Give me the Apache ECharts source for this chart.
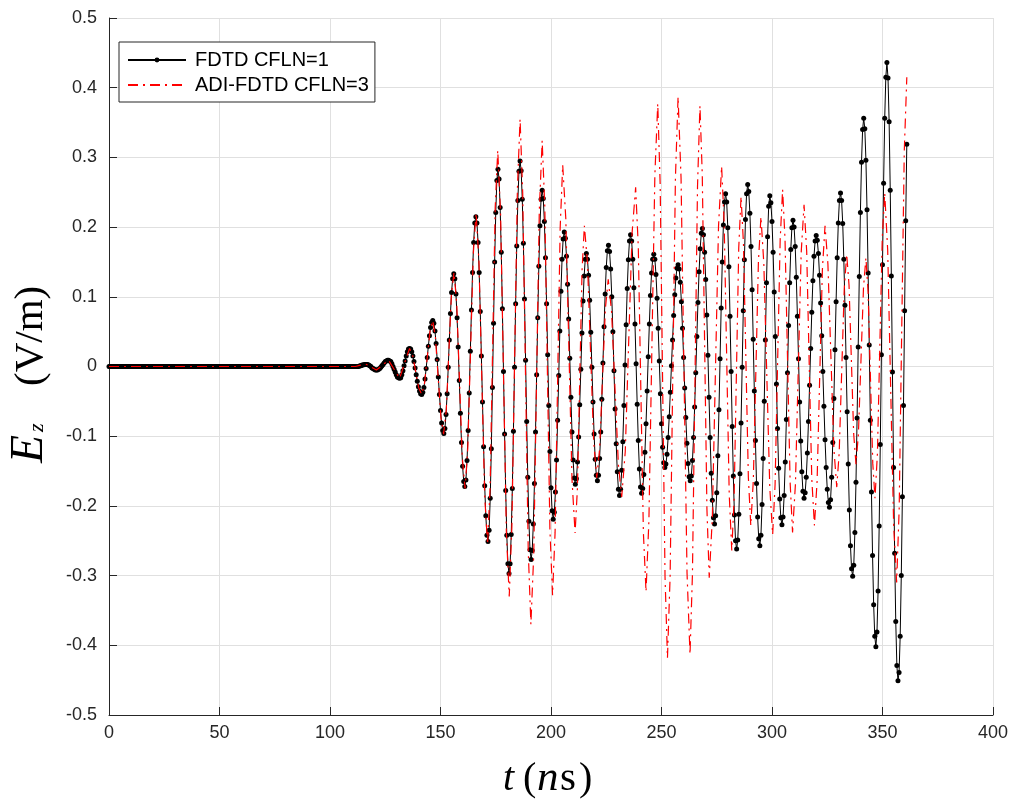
<!DOCTYPE html>
<html><head><meta charset="utf-8">
<script src="https://cdn.jsdelivr.net/npm/echarts@6/dist/echarts.min.js"></script>
<style>html,body{margin:0;padding:0;background:#fff}#c{width:1016px;height:802px}</style>
</head><body><div id="c"></div>
<script>
const seriesNames = ['FDTD CFLN=1', 'ADI-FDTD CFLN=3'];
const xMin = 0, xMax = 400, xStep = 50;
const yMin = -0.5, yMax = 0.5, yStep = 0.1;

// FDTD samples: uniform time step starting at fdtdT0 (ns)
const fdtdT0 = 0, fdtdDt = 0.5;
const fdtdEz = [
0,0,0,0,0,0,0,0,0,0,0,0,0,0,0,0,0,0,0,0,0,0,0,0,0,
0,0,0,0,0,0,0,0,0,0,0,0,0,0,0,0,0,0,0,0,0,0,0,0,0,
0,0,0,0,0,0,0,0,0,0,0,0,0,0,0,0,0,0,0,0,0,0,0,0,0,
0,0,0,0,0,0,0,0,0,0,0,0,0,0,0,0,0,0,0,0,0,0,0,0,0,
0,0,0,0,0,0,0,0,0,0,0,0,0,0,0,0,0,0,0,0,0,0,0,0,0,
0,0,0,0,0,0,0,0,0,0,0,0,0,0,0,0,0,0,0,0,0,0,0,0,0,
0,0,0,0,0,0,0,0,0,0,0,0,0,0,0,0,0,0,0,0,0,0,0,0,0,
0,0,0,0,0,0,0,0,0,0,0,0,0,0,0,0,0,0,0,0,0,0,0,0,0,
0,0,0,0,0,0,0,0,0,0,0,0,0,0,0,0,0,0,0,0,0,0,0,0,0,
0, 0, 0.001, 0.001, 0.002, 0.002, 0.003, 0.003, 0.003,
0.003, 0.002, 0.001, 0, -0.002, -0.003, -0.004, -0.005, -0.005,
-0.005, -0.004, -0.003, -0.001, 0.001, 0.003, 0.005, 0.007, 0.008, 0.009, 0.009,
0.008, 0.007, 0.004, 0, -0.004, -0.008, -0.012, -0.015, -0.016, -0.017,
-0.016, -0.012, -0.006, 0.001, 0.008, 0.015, 0.021, 0.025, 0.026,
0.025, 0.021, 0.015, 0.007, -0.002, -0.012, -0.021, -0.029, -0.035, -0.039, -0.040,
-0.037, -0.030, -0.018, -0.003, 0.013, 0.029, 0.044, 0.056, 0.063, 0.066,
0.062, 0.051, 0.033, 0.010, -0.015, -0.040, -0.063, -0.081, -0.092, -0.096,
-0.089, -0.069, -0.039, -0.001, 0.038, 0.076, 0.106, 0.126, 0.133,
0.126, 0.104, 0.070, 0.028, -0.020, -0.067, -0.109, -0.143, -0.165, -0.172,
-0.163, -0.135, -0.092, -0.038, 0.022, 0.081, 0.135, 0.178, 0.206, 0.215,
0.206, 0.178, 0.135, 0.079, 0.015, -0.051, -0.115, -0.171, -0.214, -0.242, -0.251,
-0.235, -0.189, -0.118, -0.030, 0.062, 0.150, 0.221, 0.267, 0.283,
0.269, 0.228, 0.164, 0.083, -0.007, -0.097, -0.178, -0.242, -0.283, -0.297,
-0.283, -0.241, -0.175, -0.093, -0.001, 0.090, 0.173, 0.238, 0.280, 0.295,
0.281, 0.240, 0.177, 0.097, 0.009, -0.079, -0.159, -0.222, -0.263, -0.277,
-0.264, -0.226, -0.168, -0.094, -0.012, 0.070, 0.144, 0.202, 0.240, 0.253,
0.241, 0.208, 0.156, 0.090, 0.017, -0.056, -0.122, -0.174, -0.207, -0.219,
-0.209, -0.180, -0.134, -0.077, -0.013, 0.051, 0.108, 0.154, 0.183, 0.193,
0.184, 0.158, 0.118, 0.068, 0.012, -0.044, -0.094, -0.134, -0.160, -0.169,
-0.161, -0.137, -0.101, -0.055, -0.004, 0.048, 0.094, 0.130, 0.154, 0.162,
0.154, 0.131, 0.095, 0.049, -0.001, -0.051, -0.097, -0.133, -0.156, -0.164,
-0.156, -0.132, -0.094, -0.047, 0.005, 0.057, 0.104, 0.142, 0.166, 0.174,
0.165, 0.140, 0.100, 0.050, -0.006, -0.061, -0.111, -0.151, -0.176, -0.185,
-0.176, -0.149, -0.108, -0.056, 0.002, 0.060, 0.112, 0.153, 0.180, 0.189,
0.180, 0.154, 0.113, 0.061, 0.004, -0.054, -0.106, -0.147, -0.173, -0.182,
-0.175, -0.155, -0.123, -0.082, -0.035, 0.014, 0.061, 0.102, 0.134, 0.154, 0.161,
0.154, 0.132, 0.098, 0.055, 0.008, -0.039, -0.082, -0.116, -0.138, -0.145,
-0.140, -0.126, -0.102, -0.072, -0.037, 0.001, 0.038, 0.073, 0.103, 0.127, 0.141, 0.146,
0.140, 0.121, 0.093, 0.055, 0.013, -0.031, -0.073, -0.110, -0.139, -0.158, -0.164,
-0.157, -0.135, -0.102, -0.058, -0.009, 0.043, 0.092, 0.136, 0.169, 0.191, 0.198,
0.189, 0.164, 0.125, 0.074, 0.016, -0.044, -0.102, -0.153, -0.192, -0.217, -0.226,
-0.214, -0.181, -0.128, -0.062, 0.011, 0.084, 0.150, 0.203, 0.236, 0.248,
0.236, 0.199, 0.143, 0.072, -0.007, -0.086, -0.157, -0.213, -0.250, -0.262,
-0.249, -0.212, -0.154, -0.081, -0.001, 0.080, 0.153, 0.211, 0.248, 0.261,
0.251, 0.220, 0.172, 0.110, 0.039, -0.035, -0.106, -0.168, -0.216, -0.247, -0.257,
-0.242, -0.198, -0.132, -0.050, 0.038, 0.120, 0.186, 0.230, 0.245,
0.235, 0.208, 0.164, 0.107, 0.043, -0.025, -0.089, -0.146, -0.190, -0.217, -0.227,
-0.216, -0.185, -0.137, -0.076, -0.009, 0.059, 0.120, 0.168, 0.199, 0.210,
0.200, 0.172, 0.128, 0.072, 0.011, -0.051, -0.107, -0.151, -0.179, -0.189,
-0.181, -0.159, -0.124, -0.079, -0.027, 0.026, 0.078, 0.123, 0.158, 0.180, 0.188,
0.181, 0.162, 0.131, 0.091, 0.044, -0.007, -0.057, -0.105, -0.145, -0.176, -0.195, -0.202,
-0.191, -0.159, -0.109, -0.046, 0.024, 0.093, 0.156, 0.206, 0.238, 0.249,
0.238, 0.205, 0.154, 0.088, 0.013, -0.065, -0.140, -0.206, -0.257, -0.290, -0.301,
-0.285, -0.238, -0.166, -0.074, 0.028, 0.129, 0.221, 0.293, 0.340, 0.356,
0.341, 0.296, 0.225, 0.134, 0.031, -0.077, -0.180, -0.271, -0.342, -0.387, -0.402,
-0.381, -0.322, -0.229, -0.112, 0.017, 0.146, 0.263, 0.356, 0.415, 0.436,
0.414, 0.351, 0.253, 0.130, -0.008, -0.145, -0.268, -0.366, -0.429, -0.451,
-0.439, -0.387, -0.300, -0.187, -0.056, 0.080, 0.209, 0.319
];

// ADI-FDTD samples (time in ns, field in V/m)
const adiT = [0, 111.5, 114, 116.5, 118.75, 121, 123.75, 126.5, 129, 131.5, 133.75, 136,
137.4, 138.75, 140.1, 141.5, 142.75, 144, 145.25, 146.5, 147.7, 148.95, 150.2, 151.4,
152.6, 153.75, 154.9, 156.1, 157.35, 158.6, 159.85, 161.1, 162.35, 163.6, 164.85, 166.1,
167.4, 168.7, 170.0, 171.3, 172.45, 173.6, 174.75, 175.9, 177.2, 178.5, 179.8, 181.1,
182.3, 183.55, 184.8, 186.0, 187.2, 188.45, 189.7, 190.9, 192.2, 193.45, 194.7, 196.0,
197.2, 198.35, 199.5, 200.7, 201.85, 203.0, 204.15, 205.3, 206.7, 208.1, 209.5, 210.9,
211.95, 213.0, 214.05, 215.1, 216.5, 217.9, 219.3, 220.7, 222.0, 223.3, 224.6, 225.9,
227.4, 228.95, 230.5, 232.0, 233.6, 235.15, 236.7, 238.3, 239.5, 240.65, 241.8, 243.0,
244.3, 245.65, 247.0, 248.3, 249.4, 250.5, 251.6, 252.7, 253.9, 255.1, 256.3, 257.5,
258.85, 260.2, 261.55, 262.9, 264.0, 265.15, 266.3, 267.4, 268.45, 269.5, 270.55, 271.6,
273.0, 274.4, 275.8, 277.2, 278.35, 279.5, 280.65, 281.8, 282.85, 283.9, 284.95, 286.0,
287.1, 288.2, 289.3, 290.4, 291.55, 292.7, 293.85, 295.0, 296.3, 297.65, 299.0, 300.3,
301.4, 302.55, 303.7, 304.8, 305.9, 307.05, 308.2, 309.3, 310.6, 311.9, 313.2, 314.5,
315.7, 316.85, 318.0, 319.2, 320.4, 321.6, 322.8, 324.0, 325.3, 326.65, 328.0, 329.3,
330.4, 331.55, 332.7, 333.8, 334.85, 335.9, 336.95, 338.0, 339.1, 340.25, 341.4, 342.5,
343.5, 344.55, 345.6, 346.6, 347.7, 348.8, 349.9, 351.0, 352.35, 353.7, 355.05, 356.4,
357.55, 358.7, 359.85, 361.0];
const adiEz = [0, 0, 0.002, 0.003, -0.001, -0.005, 0.002, 0.009, -0.004, -0.017, 0.005, 0.026,
0.016, -0.007, -0.030, -0.040, -0.025, 0.013, 0.051, 0.066, 0.042, -0.016, -0.073, -0.097,
-0.063, 0.019, 0.101, 0.135, 0.090, -0.020, -0.130, -0.175, -0.117, 0.023, 0.162, 0.220,
0.151, -0.018, -0.186, -0.255, -0.173, 0.028, 0.228, 0.310, 0.217, -0.010, -0.237, -0.330,
-0.230, 0.013, 0.255, 0.355, 0.249, -0.008, -0.264, -0.370, -0.269, -0.023, 0.223, 0.324,
0.229, -0.002, -0.233, -0.328, -0.238, -0.020, 0.199, 0.289, 0.212, 0.025, -0.162, -0.239,
-0.175, -0.019, 0.138, 0.202, 0.149, 0.021, -0.107, -0.160, -0.118, -0.018, 0.083, 0.125,
0.079, -0.031, -0.141, -0.187, -0.122, 0.035, 0.192, 0.257, 0.172, -0.033, -0.238, -0.323,
-0.221, 0.027, 0.275, 0.377, 0.261, -0.021, -0.302, -0.418, -0.301, -0.016, 0.270, 0.387,
0.270, -0.013, -0.296, -0.413, -0.298, -0.020, 0.259, 0.374, 0.275, 0.036, -0.204, -0.303,
-0.217, -0.008, 0.201, 0.287, 0.207, 0.012, -0.184, -0.264, -0.190, -0.010, 0.170, 0.244,
0.175, 0.008, -0.159, -0.228, -0.163, -0.007, 0.150, 0.215, 0.148, -0.013, -0.174, -0.241,
-0.169, 0.007, 0.182, 0.254, 0.182, 0.008, -0.166, -0.238, -0.169, -0.003, 0.163, 0.232,
0.165, 0.002, -0.161, -0.228, -0.165, -0.013, 0.139, 0.202, 0.147, 0.015, -0.118, -0.173,
-0.124, -0.006, 0.112, 0.161, 0.117, 0.011, -0.096, -0.140, -0.097, 0.008, 0.113, 0.156,
0.106, -0.017, -0.139, -0.189, -0.125, 0.030, 0.185, 0.249, 0.167, -0.031, -0.228, -0.310,
-0.204, 0.053, 0.309, 0.415];

const fdtdData = fdtdEz.map((v, i) => [fdtdT0 + i * fdtdDt, v]);
const nAdi = Math.min(adiT.length, adiEz.length);
const adiData = [];
for (let i = 0; i < nAdi; i++) adiData.push([adiT[i], adiEz[i]]);

const axisColor = '#262626';
const tickFont = 'Liberation Sans, Arial, Helvetica, sans-serif';
const serif = 'Liberation Serif, Times New Roman, serif';
const chart = echarts.init(document.getElementById('c'), null, {renderer: 'canvas'});
chart.setOption({
  animation: false,
  backgroundColor: '#ffffff',
  grid: {left: 109, right: 23, top: 18, bottom: 87, containLabel: false},
  xAxis: {
    type: 'value', min: xMin, max: xMax, interval: xStep,
    axisLine: {show: true, onZero: false, lineStyle: {color: axisColor, width: 1}},
    axisTick: {show: true, inside: true, length: 8, lineStyle: {color: axisColor, width: 1}},
    axisLabel: {color: axisColor, fontSize: 18, fontFamily: tickFont, margin: 9},
    splitLine: {show: true, lineStyle: {color: '#e0e0e0', width: 1}}
  },
  yAxis: {
    type: 'value', min: yMin, max: yMax, interval: yStep,
    axisLine: {show: true, onZero: false, lineStyle: {color: axisColor, width: 1}},
    axisTick: {show: true, inside: true, length: 8, lineStyle: {color: axisColor, width: 1}},
    axisLabel: {color: axisColor, fontSize: 18, fontFamily: tickFont, margin: 12,
      formatter: v => Math.abs(v) < 1e-9 ? '0' : v.toFixed(1)},
    splitLine: {show: true, lineStyle: {color: '#e0e0e0', width: 1}}
  },
  legend: {
    orient: 'vertical', left: 119, top: 42,
    data: [
      {name: seriesNames[0]},
      {name: seriesNames[1], itemStyle: {opacity: 0}}
    ],
    itemWidth: 58, itemHeight: 6, itemGap: 5,
    padding: [8, 6, 7, 8],
    backgroundColor: '#ffffff', borderColor: axisColor, borderWidth: 1, borderRadius: 0,
    textStyle: {color: '#000', fontSize: 20, fontFamily: tickFont, padding: [0, 0, 0, 4]}
  },
  series: [
    {
      name: seriesNames[0], type: 'line', data: fdtdData,
      symbol: 'circle', symbolSize: 5, showSymbol: true,
      itemStyle: {color: '#000000'},
      lineStyle: {color: '#000000', width: 1},
      z: 2
    },
    {
      name: seriesNames[1], type: 'line', data: adiData,
      symbol: 'none', showSymbol: false,
      itemStyle: {color: '#ff0000'},
      lineStyle: {color: '#ff0000', width: 1.2, type: [10, 5, 2, 5]},
      z: 3
    }
  ],
  graphic: [
    {type: 'text', x: 503, y: 779, style: {text: 't', fontFamily: serif, fontStyle: 'italic', fontSize: 40, fill: '#000', verticalAlign: 'middle', align: 'left'}},
    {type: 'text', x: 523, y: 779, style: {text: '(', fontFamily: serif, fontSize: 40, fill: '#000', verticalAlign: 'middle', align: 'left'}},
    {type: 'text', x: 537, y: 779, style: {text: 'n', fontFamily: serif, fontStyle: 'italic', fontSize: 43, fill: '#000', verticalAlign: 'middle', align: 'left'}},
    {type: 'text', x: 560, y: 779, style: {text: 's', fontFamily: serif, fontSize: 41, fill: '#000', verticalAlign: 'middle', align: 'left'}},
    {type: 'text', x: 579, y: 779, style: {text: ')', fontFamily: serif, fontSize: 40, fill: '#000', verticalAlign: 'middle', align: 'left'}},
    {
      type: 'group', x: 34, y: 372, rotation: Math.PI / 2,
      children: [
        {type: 'text', x: -91, y: -4, style: {text: 'E', fontFamily: serif, fontStyle: 'italic', fontSize: 46, fill: '#000', verticalAlign: 'middle', align: 'left'}},
        {type: 'text', x: -60, y: 3, style: {text: 'z', fontFamily: serif, fontStyle: 'italic', fontSize: 22, fill: '#000', verticalAlign: 'middle', align: 'left'}},
        {type: 'text', x: -14, y: -3, style: {text: '(V/m)', fontFamily: serif, fontSize: 41, fill: '#000', verticalAlign: 'middle', align: 'left'}}
      ]
    }
  ]
});
</script>
</body></html>
